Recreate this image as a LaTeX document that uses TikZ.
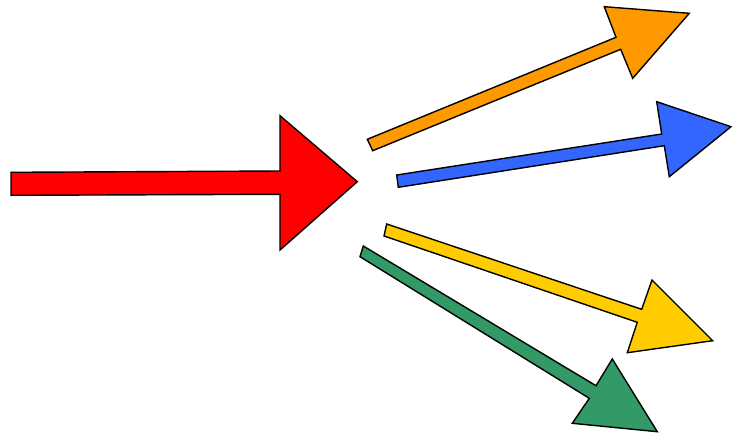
\documentclass[tikz,border=0pt]{standalone}
\definecolor{ared}{HTML}{FF0000}
\definecolor{aorange}{HTML}{FF9900}
\definecolor{ablue}{HTML}{3366FF}
\definecolor{ayellow}{HTML}{FFCC00}
\definecolor{agreen}{HTML}{339966}
\tikzset{blockarrow/.style={draw=black, line width=1.4pt, line join=miter}}
\begin{document}
\begin{tikzpicture}[x=1pt,y=-1pt]
\useasboundingbox (0,0) rectangle (732,434);
% red
\filldraw[blockarrow, fill=ared] (11,172.3) -- (280,171) -- (280,115.7) -- (357.3,181.7) -- (280,250) -- (280,194.3) -- (11,195.3) -- cycle;
% orange
\filldraw[blockarrow, fill=aorange] (367.3,139.3) -- (616,37.3) -- (604.3,6.7) -- (689.3,13.3) -- (632.7,78.3) -- (620.7,49.3) -- (372.7,150.7) -- cycle;
% blue
\filldraw[blockarrow, fill=ablue] (396.7,175) -- (661.7,134) -- (656.7,101.7) -- (731,126.7) -- (669.3,176.7) -- (664.3,145.7) -- (398.3,187.3) -- cycle;
% yellow
\filldraw[blockarrow, fill=ayellow] (386.7,224) -- (641.7,309.3) -- (652,280) -- (712.7,340.7) -- (627.3,352.7) -- (637.3,322.3) -- (384,236) -- cycle;
% green
\filldraw[blockarrow, fill=agreen] (363.3,246) -- (596,385.7) -- (612.3,359) -- (657.3,431.7) -- (572.3,423.3) -- (589.3,398.3) -- (360,256.7) -- cycle;
\end{tikzpicture}
\end{document}
